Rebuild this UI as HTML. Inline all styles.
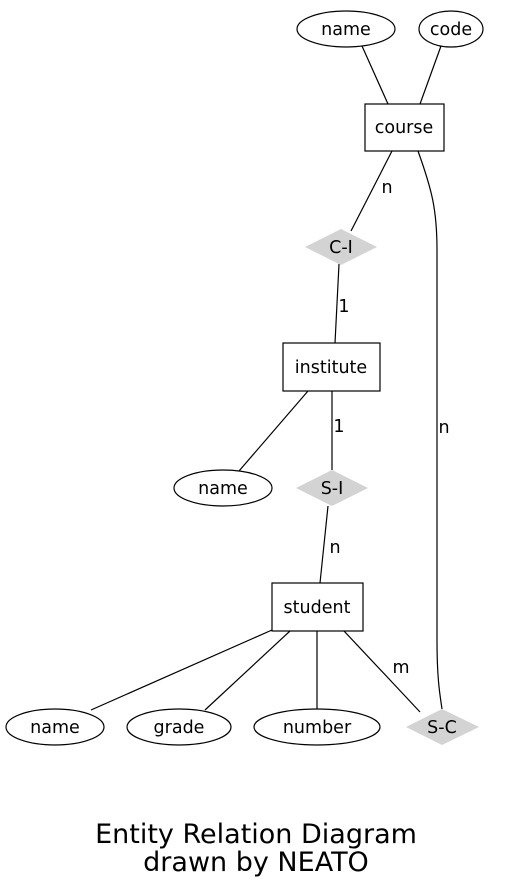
<!DOCTYPE html>
<html><head><meta charset="utf-8"><style>html,body{margin:0;padding:0;background:#fff}svg{display:block}</style></head>
<body>
<svg width="513" height="893" viewBox="0 0 513 893" xmlns="http://www.w3.org/2000/svg" font-family="DejaVu Sans, Liberation Sans, sans-serif" font-size="17.5">
<rect width="513" height="893" fill="#fff"/>
<g stroke="#000" stroke-width="1.2" fill="none">
<path d="M362,46 L388,104"/>
<path d="M441,46 L420,104"/>
<path d="M392,151 L351,231"/>
<path d="M339,264 L335,343"/>
<path d="M308,391 L239,471"/>
<path d="M332,391 L332,470"/>
<path d="M328,506 L320,583"/>
<path d="M272,630 L91,710"/>
<path d="M290,631 L205,710"/>
<path d="M317,631 L317,709"/>
<path d="M344,631 L420,712"/>
<path d="M418,151 C432,190 437,210 437,250 L437,640 C437,680 440,695 442,709"/>
</g>
<g stroke="#000" stroke-width="1.2" fill="#fff">
<ellipse cx="346" cy="29" rx="49" ry="18"/>
<ellipse cx="451" cy="29" rx="32" ry="18"/>
<rect x="365" y="104" width="79" height="47"/>
<rect x="283" y="343" width="97" height="48"/>
<ellipse cx="223" cy="488" rx="49" ry="18"/>
<rect x="272" y="583" width="91" height="48"/>
<ellipse cx="55" cy="727" rx="49" ry="18"/>
<ellipse cx="179" cy="727" rx="52" ry="18"/>
<ellipse cx="317" cy="727" rx="63" ry="18"/>
</g>
<g fill="#d3d3d3">
<polygon points="341,229 377,247 341,265 305,247"/>
<polygon points="332,470 368,488 332,506 296,488"/>
<polygon points="442,709 479,727 442,745 406,727"/>
</g>
<g fill="#000" text-anchor="middle">
<text x="346" y="35">name</text>
<text x="451" y="35">code</text>
<text x="404" y="133">course</text>
<text x="341" y="253">C-I</text>
<text x="331" y="373">institute</text>
<text x="223" y="494">name</text>
<text x="332" y="494">S-I</text>
<text x="317" y="613">student</text>
<text x="55" y="733">name</text>
<text x="179" y="733">grade</text>
<text x="317" y="733">number</text>
<text x="442" y="733">S-C</text>
<text x="387" y="193">n</text>
<text x="344" y="312">1</text>
<text x="339" y="432">1</text>
<text x="335" y="553">n</text>
<text x="401" y="673">m</text>
<text x="444" y="433">n</text>
<text x="256" y="843" font-size="27">Entity Relation Diagram</text>
<text x="256" y="871" font-size="27">drawn by NEATO</text>
</g>
</svg>
</body></html>
